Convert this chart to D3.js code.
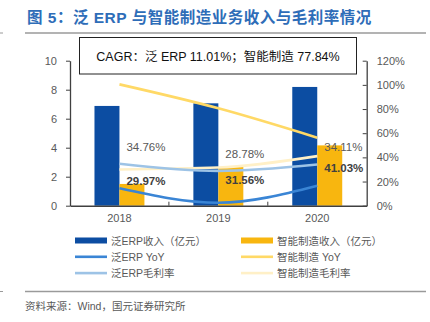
<!DOCTYPE html>
<html>
<head>
<meta charset="utf-8">
<script src="https://cdn.jsdelivr.net/npm/d3@7"></script>
<style>
  body { margin: 0; background: #fff; }
  svg { display: block; font-family: "Liberation Sans", Arial, "Noto Sans CJK SC", sans-serif; }
  .axis text { fill: #595959; font-size: 11px; }
  .axis path, .axis line { stroke: #404040; }
</style>
</head>
<body>
<div id="chart"></div>
<script>
// data
const years = ["2018", "2019", "2020"];
const erpRevenue = [6.88, 7.06, 8.19];
const smartRevenue = [1.5, 2.67, 4.16];
const erpYoY = [14.4, 2.5, 16.5];
const smartYoY = [100.4, 80.6, 56.3];
const erpMargin = [34.76, 28.78, 34.11];
const smartMargin = [29.97, 31.56, 41.03];
const leftTicks = [0, 2, 4, 6, 8, 10];
const rightTicks = [0, 20, 40, 60, 80, 100, 120];

const width = 430;
const height = 322;
const margin = { top: 60.7, right: 63.3, bottom: 116.3, left: 70 };

const colors = {
  erpBar: "#0C4DA2",
  smartBar: "#F8B60F",
  erpYoY: "#3A85D5",
  smartYoY: "#FFD966",
  erpMargin: "#9DC3E6",
  smartMargin: "#FFF0C7",
};

const svg = d3.select("#chart").append("svg")
  .attr("width", width)
  .attr("height", height);

// title + rules
svg.append("text")
  .attr("x", 27).attr("y", 23)
  .attr("fill", "#2E6DB8")
  .attr("font-size", 15.5)
  .attr("font-weight", "bold")
  .attr("letter-spacing", 0.5)
  .text("图 5：泛 ERP 与智能制造业务收入与毛利率情况");

svg.append("line")
  .attr("x1", 25).attr("x2", 426).attr("y1", 33).attr("y2", 33)
  .attr("stroke", "#9a9a9a").attr("stroke-width", 1.5);
svg.append("line")
  .attr("x1", 0).attr("x2", 3).attr("y1", 33).attr("y2", 33)
  .attr("stroke", "#9a9a9a").attr("stroke-width", 1);

// scales
const x0 = d3.scaleBand()
  .domain(years)
  .range([margin.left, width - margin.right]);
const x1 = d3.scaleBand()
  .domain(["erp", "smart"])
  .range([0, x0.bandwidth()])
  .paddingOuter(0.98);
const yLeft = d3.scaleLinear().domain([0, 10]).range([height - margin.bottom, margin.top]);
const yRight = d3.scaleLinear().domain([0, 120]).range([height - margin.bottom, margin.top]);

// bars
const groups = svg.append("g").selectAll("g")
  .data(years)
  .join("g")
  .attr("transform", (d) => `translate(${x0(d)},0)`);

groups.append("rect")
  .attr("x", x1("erp"))
  .attr("width", x1.bandwidth())
  .attr("y", (d, i) => yLeft(erpRevenue[i]))
  .attr("height", (d, i) => yLeft(0) - yLeft(erpRevenue[i]))
  .attr("fill", colors.erpBar);

groups.append("rect")
  .attr("x", x1("smart"))
  .attr("width", x1.bandwidth())
  .attr("y", (d, i) => yLeft(smartRevenue[i]))
  .attr("height", (d, i) => yLeft(0) - yLeft(smartRevenue[i]))
  .attr("fill", colors.smartBar);

// lines on the right axis
const cx = (d, i) => x0(years[i]) + x0.bandwidth() / 2;
const line = d3.line()
  .x(cx)
  .y((d) => yRight(d))
  .curve(d3.curveMonotoneX);

const series = [
  [smartMargin, colors.smartMargin],
  [erpMargin, colors.erpMargin],
  [smartYoY, colors.smartYoY],
  [erpYoY, colors.erpYoY],
];
svg.append("g").selectAll("path")
  .data(series)
  .join("path")
  .attr("d", (d) => line(d[0]))
  .attr("fill", "none")
  .attr("stroke", (d) => d[1])
  .attr("stroke-width", 2.6);

// axes
const xAxis = d3.axisBottom(x0).tickSize(0).tickPadding(9);
const gx = svg.append("g")
  .attr("class", "axis")
  .attr("transform", `translate(0,${height - margin.bottom})`)
  .call(xAxis);
gx.select(".domain").attr("stroke-width", 1.5);
// category separators
gx.selectAll(".sep")
  .data(years.slice(1))
  .join("line")
  .attr("class", "sep")
  .attr("x1", (d) => x0(d)).attr("x2", (d) => x0(d))
  .attr("y1", 0).attr("y2", -4)
  .attr("stroke", "#404040");

svg.append("g")
  .attr("class", "axis")
  .attr("transform", `translate(${margin.left},0)`)
  .call(d3.axisLeft(yLeft).tickValues(leftTicks).tickSize(4).tickSizeOuter(0).tickPadding(9))
  .select(".domain").attr("stroke-width", 1.3);

svg.append("g")
  .attr("class", "axis")
  .attr("transform", `translate(${width - margin.right},0)`)
  .call(d3.axisRight(yRight).tickValues(rightTicks).tickSize(-4).tickSizeOuter(0).tickPadding(10)
    .tickFormat((d) => d + "%"))
  .select(".domain").attr("stroke-width", 1.3);

// data labels
svg.append("g").selectAll("text")
  .data(erpMargin)
  .join("text")
  .attr("x", (d, i) => cx(d, i) + 7)
  .attr("y", (d) => yRight(d) - 13)
  .attr("fill", "#595959")
  .attr("font-size", 11.5)
  .text((d) => d.toFixed(2) + "%");

svg.append("g").selectAll("text")
  .data(smartMargin)
  .join("text")
  .attr("x", (d, i) => cx(d, i) + 7)
  .attr("y", (d) => yRight(d) + 16)
  .attr("fill", "#404040")
  .attr("font-size", 11.5)
  .attr("font-weight", "bold")
  .text((d) => d.toFixed(2) + "%");

// CAGR box
svg.append("rect")
  .attr("x", 79.5).attr("y", 37.5)
  .attr("width", 277).attr("height", 36.5)
  .attr("fill", "#fff")
  .attr("stroke", "#222").attr("stroke-width", 1);
svg.append("text")
  .attr("x", 218).attr("y", 61)
  .attr("text-anchor", "middle")
  .attr("fill", "#111")
  .attr("font-size", 12.5)
  .text("CAGR：泛 ERP 11.01%；智能制造 77.84%");

// legend
const legendItems = [
  { label: "泛ERP收入（亿元）", color: colors.erpBar, h: 6 },
  { label: "智能制造收入（亿元）", color: colors.smartBar, h: 6 },
  { label: "泛ERP YoY", color: colors.erpYoY, h: 2.6 },
  { label: "智能制造 YoY", color: colors.smartYoY, h: 2.6 },
  { label: "泛ERP毛利率", color: colors.erpMargin, h: 2.6 },
  { label: "智能制造毛利率", color: colors.smartMargin, h: 2.6 },
];
const legend = svg.append("g").selectAll("g")
  .data(legendItems)
  .join("g")
  .attr("transform", (d, i) => `translate(${i % 2 ? 241 : 75},${240.5 + Math.floor(i / 2) * 16.3})`);
legend.append("rect")
  .attr("x", 0).attr("width", 32)
  .attr("y", (d) => -d.h / 2).attr("height", (d) => d.h)
  .attr("fill", (d) => d.color);
legend.append("text")
  .attr("x", 36).attr("y", 4)
  .attr("fill", "#595959")
  .attr("font-size", 10.5)
  .text((d) => d.label);

// source line
svg.append("line")
  .attr("x1", 25).attr("x2", 426).attr("y1", 291.5).attr("y2", 291.5)
  .attr("stroke", "#9a9a9a").attr("stroke-width", 1.5);
svg.append("line")
  .attr("x1", 0).attr("x2", 3).attr("y1", 291.5).attr("y2", 291.5)
  .attr("stroke", "#9a9a9a").attr("stroke-width", 1);
svg.append("text")
  .attr("x", 25).attr("y", 310)
  .attr("fill", "#595959")
  .attr("font-size", 10.5)
  .text("资料来源：Wind，国元证券研究所");
</script>
</body>
</html>
